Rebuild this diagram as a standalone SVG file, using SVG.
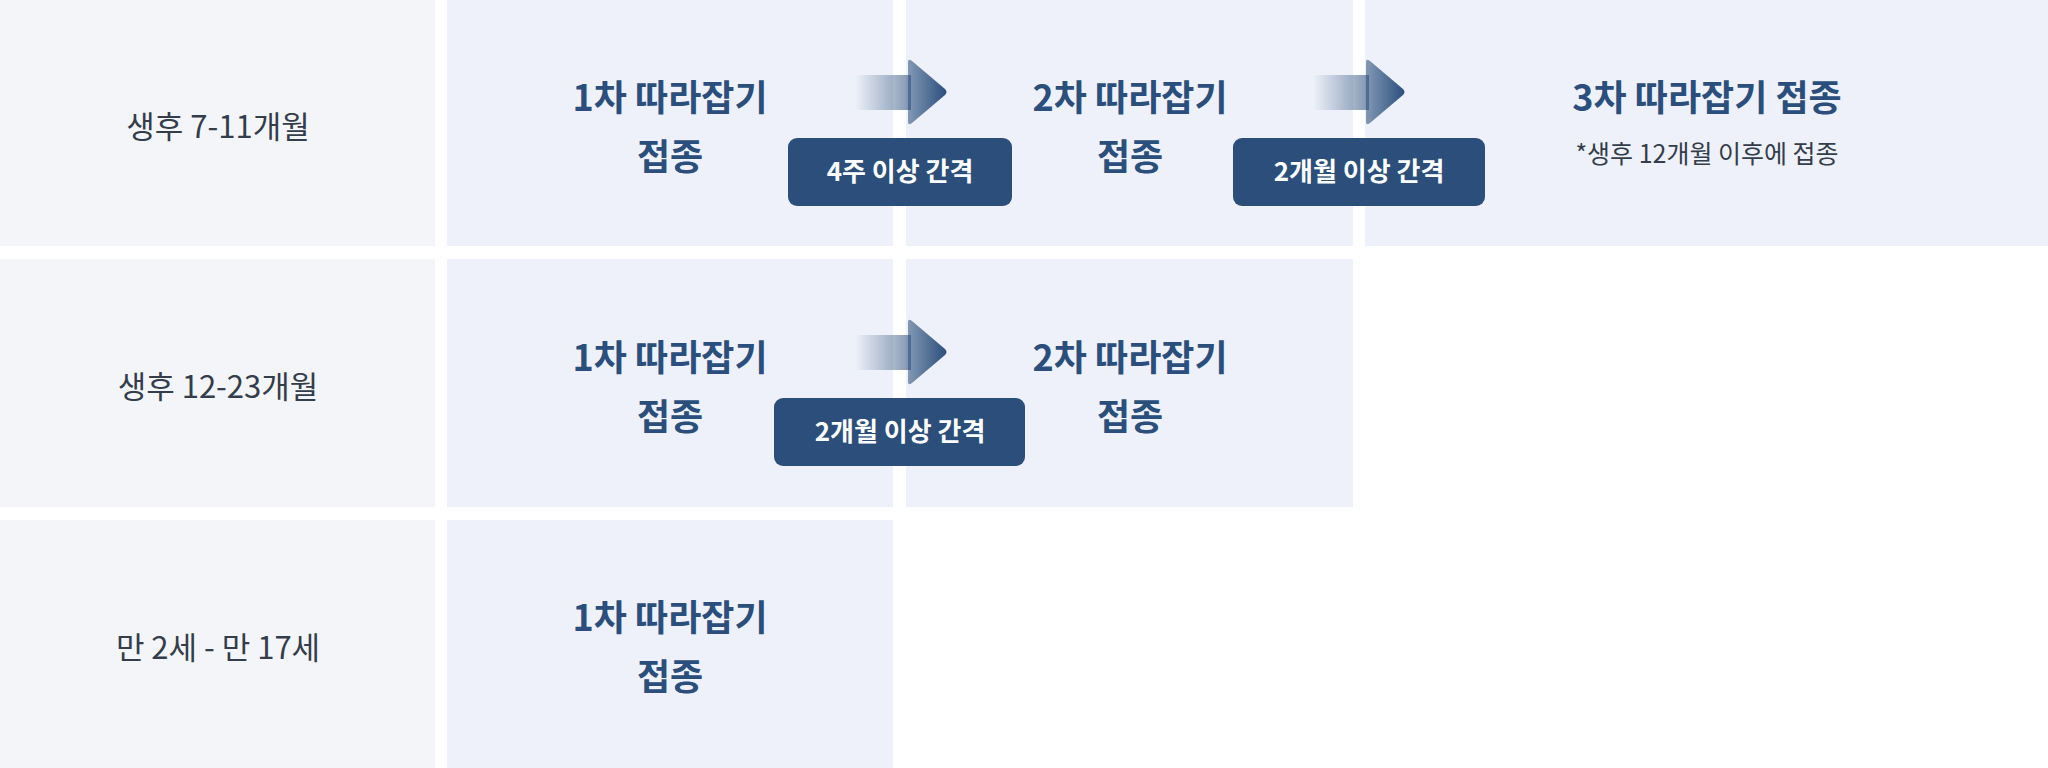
<svg xmlns="http://www.w3.org/2000/svg" width="2048" height="768" viewBox="0 0 2048 768">
<style>
.lbl{fill:#f4f5f8}.cell{fill:#eef1f9}
text{font-family:"Noto Sans CJK KR","Noto Sans",sans-serif;text-anchor:middle}
.h{font-size:31px;fill:#333d4b}
.m{font-size:36px;font-weight:bold;fill:#2b4f7c}
.n{font-size:25px;fill:#333d4b}
.b{fill:#2b4f7a}
.bt{font-size:26px;font-weight:bold;fill:#fff}
</style>
<defs>
<linearGradient id="g" x1="0" x2="1" y1="0" y2="0"><stop offset="0" stop-color="#2b4f7c" stop-opacity="0"/><stop offset="1" stop-color="#2b4f7c" stop-opacity="0.6"/></linearGradient>
<linearGradient id="g2" x1="0" x2="1" y1="0" y2="0"><stop offset="0" stop-color="#2b4f7c" stop-opacity="0.55"/><stop offset="1" stop-color="#2b4f7c"/></linearGradient>
</defs>
<rect width="2048" height="768" fill="#fff"/>
<g id="row1">
<rect class="lbl" x="0" y="0" width="435" height="246"/>
<rect class="cell" x="447" y="0" width="446" height="246"/>
<rect class="cell" x="906" y="0" width="447" height="246"/>
<rect class="cell" x="1365" y="0" width="683" height="246"/>
<text class="h" x="218" y="138">생후 7-11개월</text>
<text class="m" x="670" y="111">1차 따라잡기</text><text class="m" x="670" y="170">접종</text>
<text class="m" x="1130" y="111">2차 따라잡기</text><text class="m" x="1130" y="170">접종</text>
<text class="m" x="1707" y="111">3차 따라잡기 접종</text>
<text class="n" x="1707" y="163">*생후 12개월 이후에 접종</text>
</g>
<g id="row2">
<rect class="lbl" x="0" y="259" width="435" height="248"/>
<rect class="cell" x="447" y="259" width="446" height="248"/>
<rect class="cell" x="906" y="259" width="447" height="248"/>
<text class="h" x="218" y="398">생후 12-23개월</text>
<text class="m" x="670" y="371">1차 따라잡기</text><text class="m" x="670" y="430">접종</text>
<text class="m" x="1130" y="371">2차 따라잡기</text><text class="m" x="1130" y="430">접종</text>
</g>
<g id="row3">
<rect class="lbl" x="0" y="520" width="435" height="248"/>
<rect class="cell" x="447" y="520" width="446" height="248"/>
<text class="h" x="218" y="659">만 2세 - 만 17세</text>
<text class="m" x="670" y="631">1차 따라잡기</text><text class="m" x="670" y="690">접종</text>
</g>
<g id="connectors">
<g transform="translate(0,0)">
<rect x="855" y="75" width="56" height="35" fill="url(#g)"/>
<path d="M908 62 Q908 58 912 61 L945 89 Q948 92 945 95 L912 123 Q908 126 908 122 Z" fill="url(#g2)"/>
</g>
<g transform="translate(458,0)">
<rect x="855" y="75" width="56" height="35" fill="url(#g)"/>
<path d="M908 62 Q908 58 912 61 L945 89 Q948 92 945 95 L912 123 Q908 126 908 122 Z" fill="url(#g2)"/>
</g>
<g transform="translate(0,260)">
<rect x="855" y="75" width="56" height="35" fill="url(#g)"/>
<path d="M908 62 Q908 58 912 61 L945 89 Q948 92 945 95 L912 123 Q908 126 908 122 Z" fill="url(#g2)"/>
</g>
</g>
<g id="badge1"><rect class="b" x="788" y="138" width="224" height="68" rx="9"/><text class="bt" x="900" y="181">4주 이상 간격</text></g>
<g id="badge2"><rect class="b" x="1233" y="138" width="252" height="68" rx="9"/><text class="bt" x="1359" y="181">2개월 이상 간격</text></g>
<g id="badge3"><rect class="b" x="774" y="398" width="251" height="68" rx="9"/><text class="bt" x="900" y="441">2개월 이상 간격</text></g>
</svg>
